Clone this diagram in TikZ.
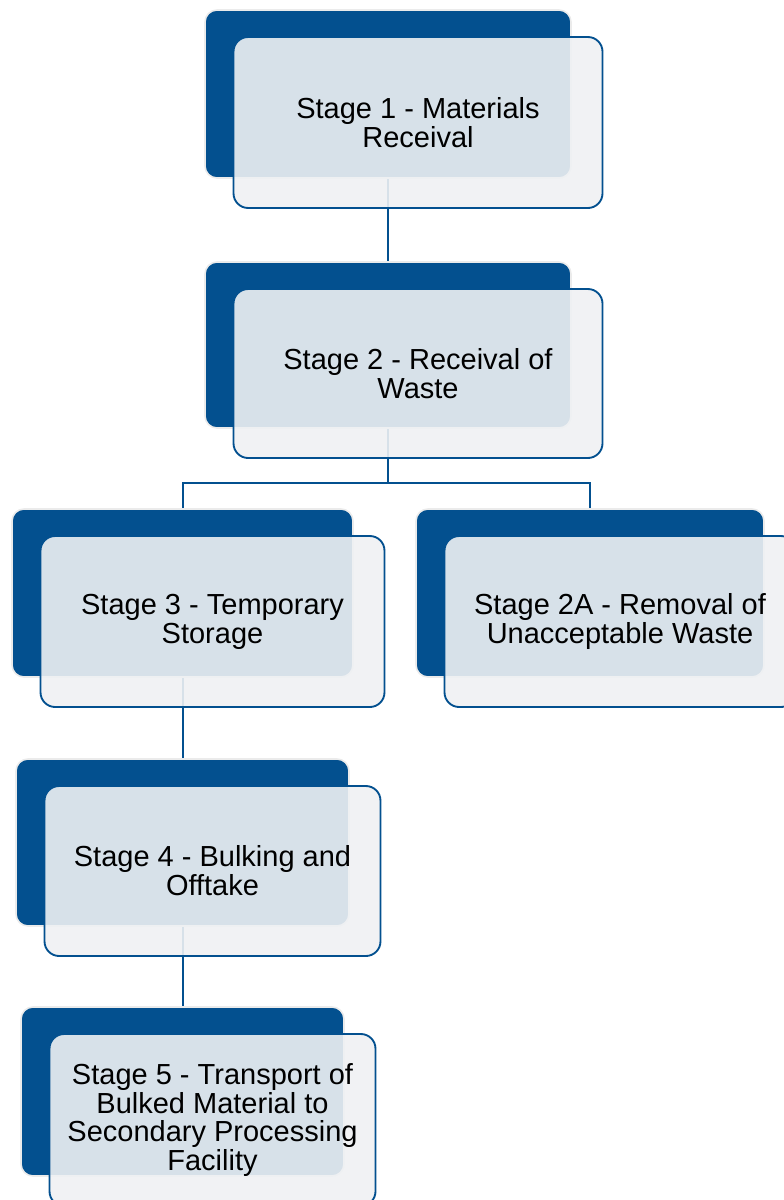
\documentclass[tikz,border=0pt]{standalone}
\usepackage{fontspec}
\setmainfont{Liberation Sans}
\usetikzlibrary{positioning}

\definecolor{stageblue}{RGB}{3,80,143}
\definecolor{stagegray}{RGB}{239,241,243}
\def\pxu{0.75pt}

\tikzset{
  backbox/.style={rounded corners=9pt, fill=stageblue, draw=black!8,
    line width=1.2pt, inner sep=0pt},
  frontbox/.style={rounded corners=11pt, fill=stagegray, fill opacity=0.9,
    text opacity=1, draw=stageblue, line width=1.4pt, align=center,
    inner sep=0pt, font=\fontsize{21.75}{21.6}\selectfont},
  link/.style={draw=stageblue, line width=1.5pt}
}

\begin{document}
\begin{tikzpicture}[x=\pxu,y=-\pxu]
    \useasboundingbox (0,0) rectangle (783,1200);
    % dark backing boxes
    \node[backbox, minimum width=366*\pxu, minimum height=168*\pxu] (d1) at (388,94) {};
    \node[backbox, minimum width=366*\pxu, minimum height=166*\pxu] (d2) at (388,345) {};
    \node[backbox, minimum width=341*\pxu, minimum height=168*\pxu] (d3) at (182.5,593) {};
    \node[backbox, minimum width=348*\pxu, minimum height=168*\pxu] (d2a) at (590,593) {};
    \node[backbox, minimum width=333*\pxu, minimum height=167*\pxu] (d4) at (182.5,842.5) {};
    \node[backbox, minimum width=323*\pxu, minimum height=169*\pxu] (d5) at (182.5,1091.5) {};
    % connectors
    \draw[link] (d1.south) -- (d2.north);
    \draw[link] (d2.south) -- ++(0,54) coordinate (split) -| (d3.north);
    \draw[link] (split) -| (d2a.north);
    \draw[link] (d3.south) -- (d4.north);
    \draw[link] (d4.south) -- (d5.north);
    % front boxes with labels
    \node[frontbox, minimum width=369*\pxu, minimum height=171*\pxu] (s1)
      at ([shift={(30,28.5)}]d1.center) {Stage 1 - Materials\\Receival};
    \node[frontbox, minimum width=369*\pxu, minimum height=169*\pxu] (s2)
      at ([shift={(30,28.5)}]d2.center) {Stage 2 - Receival of\\Waste};
    \node[frontbox, minimum width=344*\pxu, minimum height=171*\pxu] (s3)
      at ([shift={(30,28.5)}]d3.center) {Stage 3 - Temporary\\Storage};
    \node[frontbox, minimum width=351*\pxu, minimum height=171*\pxu] (s2a)
      at ([shift={(30,28.5)}]d2a.center) {Stage 2A - Removal of\\Unacceptable Waste};
    \node[frontbox, minimum width=336*\pxu, minimum height=170*\pxu] (s4)
      at ([shift={(30,28.5)}]d4.center) {Stage 4 - Bulking and\\Offtake};
    \node[frontbox, minimum width=326*\pxu, minimum height=172*\pxu] (s5)
      at ([shift={(30,28.5)}]d5.center) {Stage 5 - Transport of\\Bulked Material to\\Secondary Processing\\Facility};
\end{tikzpicture}
\end{document}
